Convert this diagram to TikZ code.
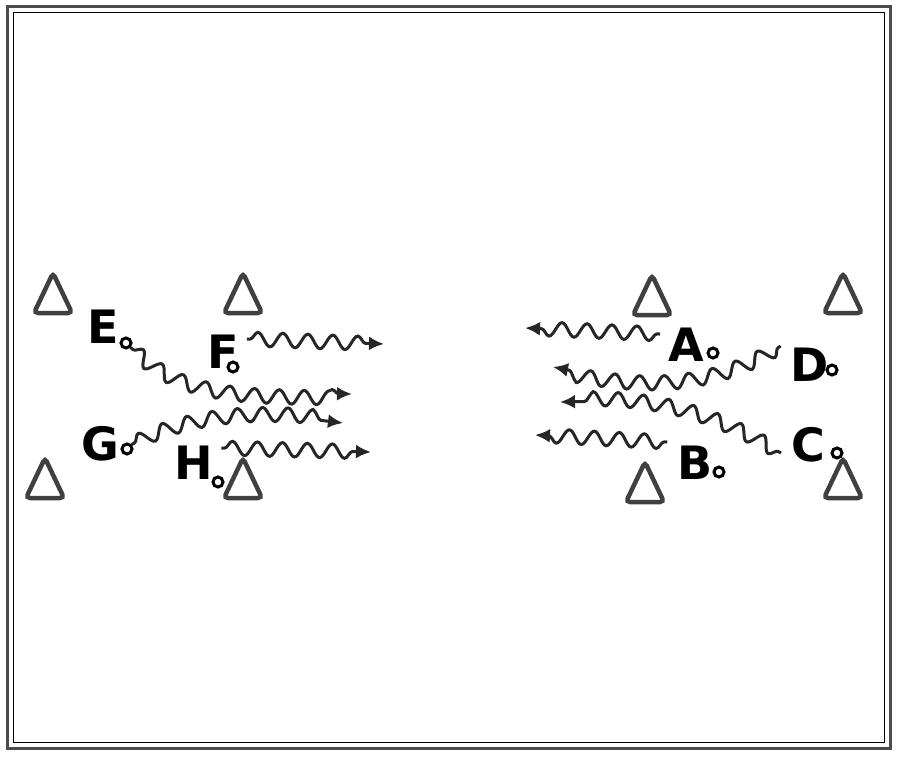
\documentclass[tikz,border=0pt]{standalone}
\usepackage{fontspec}
\setmainfont{DejaVu Sans}
\usetikzlibrary{arrows.meta,decorations.pathmorphing,positioning}

\begin{document}
\begin{tikzpicture}[x=1pt,y=-1pt]
    \tikzset{player/.style= {font=\fontsize{46}{46}\selectfont\bfseries
    , inner sep=0pt
      }
    , spot/.style= {draw, circle, line width=3pt
    , minimum size=10pt, inner sep=0pt
      }
    , dribble/.style= {draw, black!85, line width=3pt
    , -{Latex[length=15pt,width=14pt]}
    , decorate, decoration={snake, segment length=25pt, amplitude=7pt
    , pre length=3pt, post length=13pt}
      }
    , cone/.pic= {\draw[black!75, line width=4.5pt, rounded corners=4pt]
      (0,20) -- (19,20) -- (0,-20) -- (-19,20) -- cycle;}
    }

\useasboundingbox (0,0) rectangle (900,757);
\draw[black!70, line width=3pt] (7,7) rectangle (890,748);
\draw[line width=1pt] (13,13) rectangle (884,742);

% cones
\pic at (53,293) {cone};
\pic at (243,293) {cone};
\pic at (45,478) {cone};
\pic at (243,478) {cone};
\pic at (652,295) {cone};
\pic at (843,293) {cone};
\pic at (645,482) {cone};
\pic at (843,478) {cone};

% left group
\node [player] (E) at (103,327) {E};
\node [spot] (Edot) at (126,343) {};
\node [player] (F) at (223,352) {F};
\node [spot] (Fdot) at (233,367) {};
\node [player] (G) at (100,444) {G};
\node [spot] (Gdot) at (127,449) {};
\node [player] (H) at (194,463) {H};
\node [spot] (Hdot) at (218,482) {};

% right group
\node [player] (A) at (686,345) {A};
\node [spot] (Adot) at (713,353) {};
\node [player] (D) at (810,365) {D};
\node [spot] (Ddot) at (832,370) {};
\node [player] (B) at (695,463) {B};
\node [spot] (Bdot) at (719,472) {};
\node [player] (C) at (808,445) {C};
\node [spot] (Cdot) at (837,453) {};

\coordinate (Eend) at (352,394);
\coordinate (Fend) at (384,344);
\coordinate (Gend) at (343,423);
\coordinate (Hend) at (371,452);
\coordinate (Aend) at (525,328);
\coordinate (Dend) at (553,367);
\coordinate (Cend) at (560,402);
\coordinate (Bend) at (535,435);

 \path[dribble] (Edot) .. controls (180,395) and (240,392) .. (Eend);
 \path[dribble] (F.north east) ++(8,4) -- (Fend);
 \path[dribble] (Gdot.north east) .. controls (200,410) and (280,415) .. (Gend);
 \path[dribble] (H.north east) ++(8,2) -- (Hend);
 \path[dribble] (A.north west) ++(-8,6) -- (Aend);
 \path[dribble] (D.north west) ++(-10,-2) .. controls (700,395) and (620,380) .. (Dend);
 \path[dribble] (C.west) ++(-10,8) .. controls (700,405) and (640,400) .. (Cend);
 \path[dribble] (B.north west) ++(-10,-4) -- (Bend);
\end{tikzpicture}
\end{document}
